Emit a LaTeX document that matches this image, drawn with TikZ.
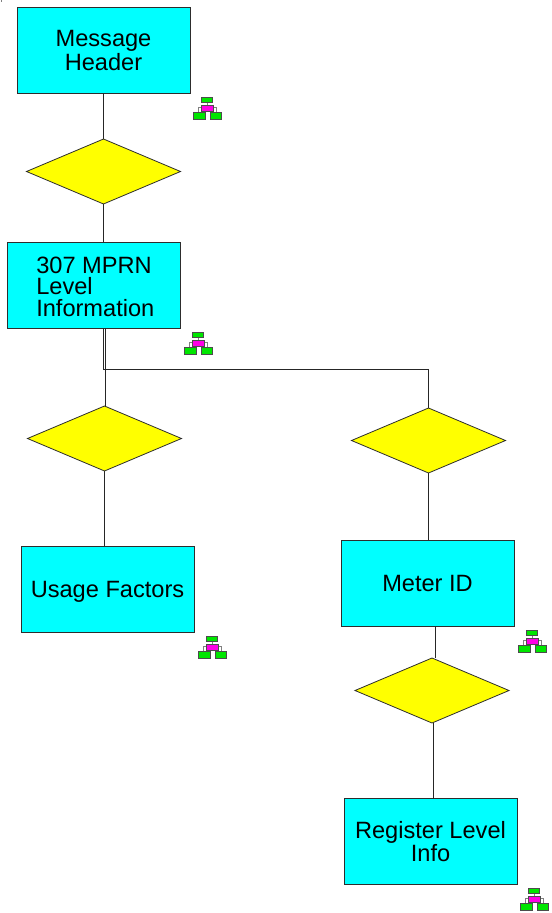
\documentclass[tikz,border=0pt]{standalone}
\usepackage{fontspec}
\setmainfont{Liberation Sans}
\usetikzlibrary{shapes.geometric}
\definecolor{boxcyan}{RGB}{0,255,255}
\definecolor{dia}{RGB}{255,255,0}
\definecolor{icong}{RGB}{0,230,0}
\definecolor{iconm}{RGB}{255,0,230}
\definecolor{edgegray}{RGB}{45,45,45}
\tikzset{
  x=0.75pt,y=-0.75pt,
  infobox/.style={draw=edgegray,line width=0.75pt,fill=boxcyan,minimum width=129.75pt,minimum height=64.5pt,inner sep=0pt,outer sep=0pt,font=\fontsize{17.7}{16.2}\selectfont,align=center},
  choice/.style={draw=edgegray,line width=0.6pt,fill=dia,diamond,minimum width=115.5pt,minimum height=48.75pt,inner sep=0pt,outer sep=0pt},
  link/.style={draw=black!85,line width=0.75pt},
  tg/.style={draw=black!70,line width=0.65pt,fill=icong},
  tm/.style={draw=black!70,line width=0.65pt,fill=iconm},
  tl/.style={draw=black!50,line width=0.7pt},
  treeicon/.pic={
    \draw[tl] (0,-6)--(0,-3);
    \draw[tl] (-9,5)--(-9,-1)--(9,-1)--(9,5);
    \path[tg] (-5.5,-11.5) rectangle (5.5,-6);
    \path[tm] (-6,-3.5) rectangle (6,2.5);
    \path[tg] (-14,4) rectangle (-2,10.5);
    \path[tg] (3,4) rectangle (14.5,10.5);
  }
}
\begin{document}
\begin{tikzpicture}
\useasboundingbox (0,0) rectangle (551,913);
\fill[black!50] (0.5,0.5) rectangle (2,2);
\node[infobox] (hdr) at (103.5,50.5) {Message\\Header};
\node[choice] (d1) at (103.5,171.5) {};
\node[infobox] (mprn) at (93.5,285) {};
\node[anchor=west,align=left,inner sep=0pt,font=\fontsize{17.7}{16.2}\selectfont] (mprnt) at (36,286.5) {307 MPRN\\Level\\Information};
\node[choice] (d2) at (104.5,438.5) {};
\node[choice] (d3) at (428.5,440.5) {};
\node[infobox] (usage) at (107.5,589) {\raisebox{-2pt}[\height][\depth]{Usage Factors}};
\node[infobox] (meter) at (427.5,583) {Meter ID};
\node[choice] (d4) at (432,690.5) {};
\node[infobox] (reg) at (430.5,841.5) {Register Level\\Info};
\coordinate (bend) at (103.5,369.5);
\draw[link] (hdr.south-|d1.north) -- (d1.north);
\draw[link] (d1.south) -- (d1.south|-mprn.north);
\draw[link] ([xshift=0.5pt]d2.north|-mprn.south) -- ([xshift=0.5pt]d2.north);
\draw[link] (bend|-mprn.south) -- (bend) -- (bend-|d3.north) -- (d3.north);
\draw[link] (d2.south) -- (d2.south|-usage.north);
\draw[link] (d3.south) -- (d3.south|-meter.north);
\draw[link] ([xshift=2.25pt]d4.north|-meter.south) -- ([xshift=2.25pt]d4.north);
\draw[link] ([xshift=0.75pt]d4.south) -- ([xshift=0.75pt]d4.south|-reg.north);
\pic at (207,108.5) {treeicon};
\pic at (198,343.5) {treeicon};
\pic at (212,647.5) {treeicon};
\pic at (532,641.5) {treeicon};
\pic at (534,899.5) {treeicon};
\end{tikzpicture}
\end{document}
